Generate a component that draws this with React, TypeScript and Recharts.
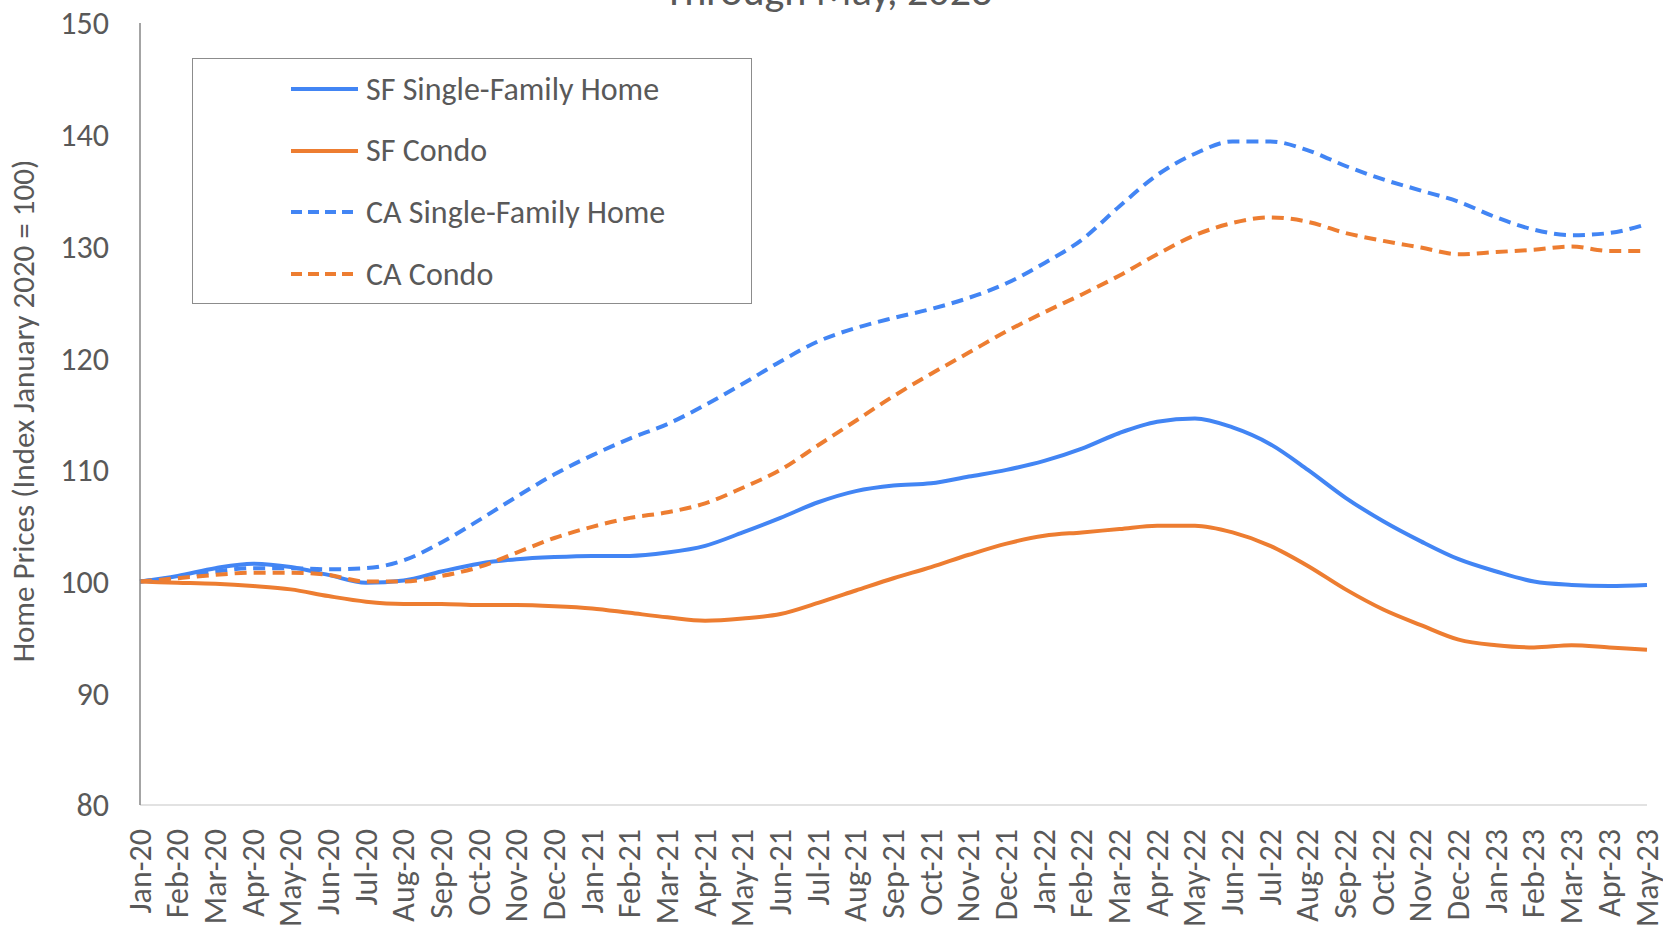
import { LineChart, Line, XAxis, YAxis } from "recharts";

const months = [
    "Jan-20", "Feb-20", "Mar-20", "Apr-20", "May-20", "Jun-20", "Jul-20", "Aug-20", "Sep-20", "Oct-20", "Nov-20", "Dec-20",
    "Jan-21", "Feb-21", "Mar-21", "Apr-21", "May-21", "Jun-21", "Jul-21", "Aug-21", "Sep-21", "Oct-21", "Nov-21", "Dec-21",
    "Jan-22", "Feb-22", "Mar-22", "Apr-22", "May-22", "Jun-22", "Jul-22", "Aug-22", "Sep-22", "Oct-22", "Nov-22", "Dec-22",
    "Jan-23", "Feb-23", "Mar-23", "Apr-23", "May-23",
];

const sfSingleFamily = [
    100, 100.5, 101.2, 101.6, 101.3, 100.6, 99.9, 100.1, 100.9, 101.6, 102.0, 102.2,
    102.3, 102.3, 102.6, 103.2, 104.4, 105.7, 107.1, 108.1, 108.6, 108.8, 109.4, 110.0,
    110.8, 111.9, 113.3, 114.3, 114.6, 113.8, 112.3, 110.0, 107.5, 105.4, 103.6, 102.0,
    100.9, 100.0, 99.7, 99.6, 99.7,
];

const sfCondo = [
    100, 99.9, 99.8, 99.6, 99.3, 98.7, 98.2, 98.0, 98.0, 97.9, 97.9, 97.8,
    97.6, 97.2, 96.8, 96.5, 96.7, 97.1, 98.1, 99.2, 100.3, 101.3, 102.4, 103.4,
    104.1, 104.4, 104.7, 105.0, 105.0, 104.4, 103.2, 101.4, 99.3, 97.5, 96.1, 94.8,
    94.3, 94.1, 94.3, 94.1, 93.9,
];

const caSingleFamily = [
    100, 100.4, 100.9, 101.2, 101.2, 101.1, 101.2, 101.9, 103.5, 105.5, 107.6, 109.6,
    111.3, 112.8, 114.1, 115.8, 117.7, 119.7, 121.5, 122.7, 123.6, 124.4, 125.4, 126.7,
    128.5, 130.6, 133.6, 136.4, 138.3, 139.4, 139.4, 138.6, 137.2, 136.0, 135.0, 134.0,
    132.6, 131.5, 131.0, 131.2, 132.0,
];

const caCondo = [
    100, 100.3, 100.6, 100.8, 100.8, 100.6, 100.0, 100.0, 100.5, 101.3, 102.6, 103.9,
    104.9, 105.7, 106.2, 107.0, 108.4, 110.0, 112.2, 114.4, 116.6, 118.6, 120.5, 122.4,
    124.1, 125.7, 127.4, 129.3, 131.0, 132.1, 132.6, 132.2, 131.2, 130.5, 129.9, 129.3,
    129.5, 129.7, 130.0, 129.6, 129.6,
];

const yTicks = [80, 90, 100, 110, 120, 130, 140, 150];

const BLUE = "#4285F4";
const ORANGE = "#ED7D31";
const TEXT = "#595959";
const FONT = "Carlito, Calibri, Lato, sans-serif";

const series = [
    { key: "sfSingle", name: "SF Single-Family Home", color: BLUE, dashed: false },
    { key: "sfCondo", name: "SF Condo", color: ORANGE, dashed: false },
    { key: "caSingle", name: "CA Single-Family Home", color: BLUE, dashed: true },
    { key: "caCondo", name: "CA Condo", color: ORANGE, dashed: true },
];

const data = months.map((m, i) => ({
    month: m,
    sfSingle: sfSingleFamily[i],
    sfCondo: sfCondo[i],
    caSingle: caSingleFamily[i],
    caCondo: caCondo[i],
}));

const DASH = "12 7";

function MonthTick(props: any) {
    const { x, y, payload } = props;
    return (
        <text
            x={x}
            y={y}
            transform={`rotate(-90 ${x} ${y})`}
            textAnchor="end"
            dominantBaseline="central"
            fill={TEXT}
            fontSize={32}
            fontFamily={FONT}
        >
            {payload.value}
        </text>
    );
}

// legend box drawn over the plot, like the excel one
function LegendBox() {
    return (
        <div
            style={{
                position: "absolute",
                left: 192,
                top: 58,
                width: 560,
                height: 246,
                border: "1.5px solid #8C8C8C",
                background: "#fff",
                boxSizing: "border-box",
            }}
        >
            {series.map((s, i) => (
                <div
                    key={s.key}
                    style={{
                        position: "absolute",
                        left: 97,
                        top: 30 + i * 61.7 - 20,
                        height: 40,
                        display: "flex",
                        alignItems: "center",
                    }}
                >
                    <svg width={70} height={8} style={{ display: "block" }}>
                        <line
                            x1={1}
                            y1={4}
                            x2={68}
                            y2={4}
                            stroke={s.color}
                            strokeWidth={4}
                            strokeDasharray={s.dashed ? "11 6" : undefined}
                        />
                    </svg>
                    <span
                        style={{
                            marginLeft: 6,
                            fontSize: 32,
                            color: TEXT,
                            fontFamily: FONT,
                            whiteSpace: "nowrap",
                        }}
                    >
                        {s.name}
                    </span>
                </div>
            ))}
        </div>
    );
}

export default function App() {
    return (
        <div style={{ position: "absolute", left: 0, top: 0, width: 1663, height: 926, overflow: "hidden", background: "#fff", fontFamily: FONT }}>
            <LineChart width={1663} height={926} data={data} margin={{ top: 23, right: 16, bottom: 0, left: 0 }}>
                <XAxis
                    dataKey="month"
                    interval={0}
                    height={121}
                    tickLine={false}
                    tickSize={0}
                    tickMargin={24}
                    axisLine={{ stroke: "#D9D9D9", strokeWidth: 1.5 }}
                    tick={<MonthTick />}
                />
                <YAxis
                    domain={[80, 150]}
                    ticks={yTicks}
                    width={140}
                    tickLine={false}
                    tickSize={0}
                    tickMargin={31}
                    axisLine={{ stroke: "#868686", strokeWidth: 1.5 }}
                    tick={{ fill: TEXT, fontSize: 32, fontFamily: FONT }}
                    label={{
                        content: () => (
                            <text
                                x={23}
                                y={411}
                                transform="rotate(-90 23 411)"
                                textAnchor="middle"
                                dominantBaseline="central"
                                fill={TEXT}
                                fontSize={31}
                                fontFamily={FONT}
                            >
                                Home Prices (Index January 2020 = 100)
                            </text>
                        ),
                    }}
                />
                {series.map((s) => (
                    <Line
                        key={s.key}
                        type="monotone"
                        dataKey={s.key}
                        name={s.name}
                        stroke={s.color}
                        strokeWidth={4}
                        strokeDasharray={s.dashed ? DASH : undefined}
                        dot={false}
                        activeDot={false}
                        isAnimationActive={false}
                    />
                ))}
            </LineChart>
            <LegendBox />
            <div
                style={{
                    position: "absolute",
                    left: 0,
                    width: 1656,
                    top: -30,
                    textAlign: "center",
                    fontSize: 42,
                    lineHeight: "42px",
                    color: TEXT,
                    fontFamily: FONT,
                }}
            >
                Through May, 2023
            </div>
        </div>
    );
}
